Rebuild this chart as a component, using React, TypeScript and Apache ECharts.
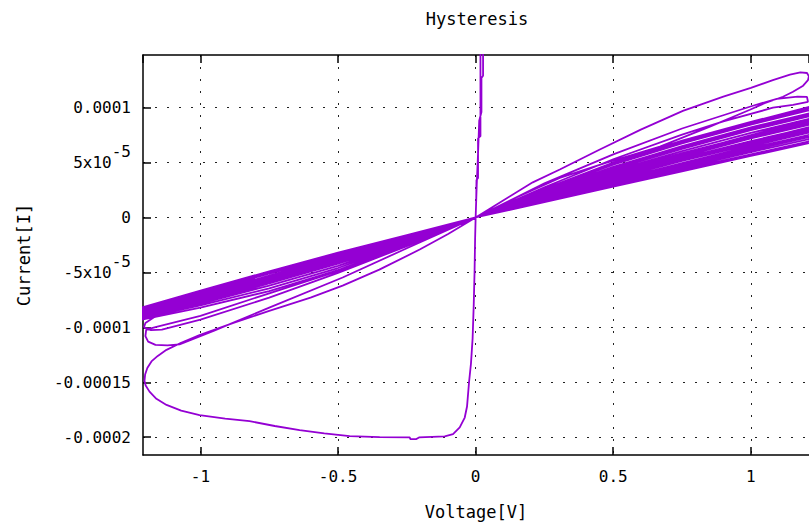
import React, { useEffect, useRef } from 'react';
import * as echarts from 'echarts';

const TITLE = 'Hysteresis';
const X_NAME = 'Voltage[V]';
const Y_NAME = 'Current[I]';

const X_MIN = -1.2087;
const X_MAX = 1.2113;
const Y_MIN = -2.162e-4;
const Y_MAX = 1.479e-4;

const xTickValues = [-1, -0.5, 0, 0.5, 1];
const xTickLabels = ['-1', '-0.5', '0', '0.5', '1'];
const yTickValues = [0.0001, 0.00005, 0, -0.00005, -0.0001, -0.00015, -0.0002];
const yTickLabels = ['0.0001', '{n|5x10}{s|-5}', '0', '{n|-5x10}{s|-5}', '-0.0001', '-0.00015', '-0.0002'];

// [Voltage, Current], in drawing order
const spikeUp = [[0, 0], [0.002, 1.5e-5], [0.003, 3.4e-5], [0.0087, 3.6e-5], [0.0087, 7.2e-5], [0.0175, 7.4e-5], [0.0175, 1.6e-4]];
const spikeDown = [[0.027, 1.6e-4], [0.027, 1.29e-4], [0.0211, 1.27e-4], [0.0211, 9.6e-5], [0.013, 8.8e-5], [0.009, 6.0e-5], [0.004, 3.0e-5], [0, 0]];
const descent = [[-0.002, -2.0e-5], [-0.004, -5.0e-5], [-0.007, -8.0e-5], [-0.011, -1.1e-4], [-0.017, -1.33e-4], [-0.024, -1.5e-4], [-0.0313, -1.721e-4], [-0.0396, -1.821e-4], [-0.0578, -1.911e-4], [-0.0822, -1.972e-4], [-0.1124, -1.993e-4], [-0.2058, -2.002e-4], [-0.2153, -2.017e-4], [-0.2371, -2.017e-4], [-0.2396, -2.002e-4], [-0.3487, -2.0e-4], [-0.4578, -1.99e-4]];
const bottomArc = [[-0.55, -1.965e-4], [-0.6396, -1.936e-4], [-0.73, -1.898e-4], [-0.8215, -1.854e-4], [-0.91, -1.83e-4], [-1.0033, -1.80e-4], [-1.07, -1.758e-4], [-1.1233, -1.706e-4], [-1.16, -1.65e-4], [-1.1851, -1.585e-4], [-1.199, -1.53e-4], [-1.2033, -1.488e-4], [-1.201, -1.43e-4], [-1.193, -1.37e-4], [-1.178, -1.31e-4], [-1.155, -1.26e-4], [-1.1233, -1.205e-4], [-1.07, -1.14e-4], [-1.0033, -1.07e-4], [-0.88, -9.6e-5], [-0.75, -8.5e-5], [-0.6, -7.3e-5], [-0.4833, -6.2e-5], [-0.35, -4.75e-5], [-0.2033, -2.92e-5], [-0.1, -1.5e-5], [0, 0]];
const outerPosLoop = [[0.1, 1.55e-5], [0.2076, 3.2e-5], [0.3058, 4.37e-5], [0.4513, 6.19e-5], [0.6, 8.0e-5], [0.753, 9.7e-5], [0.9, 1.10e-4], [1.0, 1.18e-4], [1.08, 1.25e-4], [1.1422, 1.30e-4], [1.18, 1.32e-4], [1.204, 1.315e-4], [1.211, 1.285e-4], [1.2076, 1.25e-4], [1.19, 1.20e-4], [1.1531, 1.144e-4], [1.1167, 1.099e-4], [1.05, 1.04e-4], [0.9967, 9.81e-5], [0.8513, 8.27e-5], [0.6695, 6.45e-5], [0.47, 4.95e-5], [0.3058, 3.6e-5], [0.15, 1.85e-5], [0, 0]];
const secondNegLoop = [[-0.25, -2.8e-5], [-0.4833, -5.46e-5], [-0.75, -8.2e-5], [-0.95, -1.03e-4], [-1.076, -1.155e-4], [-1.12, -1.165e-4], [-1.1633, -1.16e-4], [-1.19, -1.13e-4], [-1.2, -1.08e-4], [-1.197, -1.02e-4], [-1.16, -9.95e-5], [-1.0, -8.95e-5], [-0.75, -6.9e-5], [-0.4833, -4.74e-5], [-0.25, -2.45e-5], [0, 0]];
const secondPosLoop = [[0.25, 3.1e-5], [0.5, 5.75e-5], [0.75, 8.1e-5], [1.0073, 1.017e-4], [1.0945, 1.08e-4], [1.17, 1.10e-4], [1.204, 1.098e-4], [1.2076, 1.053e-4], [1.1531, 1.026e-4], [1.0804, 9.99e-5], [0.9, 8.75e-5], [0.75, 7.55e-5], [0.5, 5.3e-5], [0.25, 2.75e-5], [0, 0]];
const hookNegLoop = [[-0.25, -2.3e-5], [-0.5, -4.4e-5], [-0.75, -6.2e-5], [-1.0, -7.8e-5], [-1.1, -8.55e-5], [-1.17, -9.1e-5], [-1.2, -9.6e-5], [-1.205, -1.0e-4], [-1.18, -1.025e-4], [-1.14, -1.02e-4], [-1.0, -9.3e-5], [-0.75, -7.3e-5], [-0.5, -5.05e-5], [-0.25, -2.6e-5], [0, 0]];

// dense band of loops (outgoing branch, returning branch, tip)
const bandPosX = [0.25, 0.5, 0.75, 1.0, 1.25];
const bandPosTipX = 1.3;
const bandPosOut = [
  [2.6e-5, 5.0e-5, 7.0e-5, 8.7e-5, 1.03e-4],
  [2.55e-5, 4.9e-5, 6.85e-5, 8.55e-5, 1.015e-4],
  [2.5e-5, 4.8e-5, 6.75e-5, 8.45e-5, 1.0e-4],
  [2.4e-5, 4.6e-5, 6.5e-5, 8.2e-5, 9.7e-5],
  [2.35e-5, 4.5e-5, 6.4e-5, 8.05e-5, 9.55e-5],
  [2.3e-5, 4.4e-5, 6.25e-5, 7.95e-5, 9.45e-5],
  [2.2e-5, 4.25e-5, 6.05e-5, 7.7e-5, 9.2e-5],
  [2.1e-5, 4.1e-5, 5.85e-5, 7.45e-5, 8.95e-5],
  [2.05e-5, 4.0e-5, 5.7e-5, 7.3e-5, 8.8e-5],
  [2.0e-5, 3.9e-5, 5.6e-5, 7.2e-5, 8.65e-5],
  [1.9e-5, 3.75e-5, 5.4e-5, 6.95e-5, 8.4e-5],
  [1.8e-5, 3.55e-5, 5.15e-5, 6.65e-5, 8.05e-5],
  [1.7e-5, 3.35e-5, 4.9e-5, 6.35e-5, 7.7e-5],
];
const bandPosBack = [
  [2.05e-5, 4.0e-5, 5.8e-5, 7.5e-5, 9.1e-5],
  [2.0e-5, 3.9e-5, 5.7e-5, 7.35e-5, 8.95e-5],
  [1.95e-5, 3.8e-5, 5.55e-5, 7.2e-5, 8.75e-5],
  [1.85e-5, 3.6e-5, 5.3e-5, 6.9e-5, 8.45e-5],
  [1.82e-5, 3.55e-5, 5.2e-5, 6.8e-5, 8.3e-5],
  [1.8e-5, 3.5e-5, 5.15e-5, 6.7e-5, 8.2e-5],
  [1.7e-5, 3.35e-5, 4.95e-5, 6.5e-5, 7.95e-5],
  [1.65e-5, 3.25e-5, 4.8e-5, 6.3e-5, 7.75e-5],
  [1.62e-5, 3.18e-5, 4.72e-5, 6.2e-5, 7.65e-5],
  [1.6e-5, 3.1e-5, 4.65e-5, 6.1e-5, 7.55e-5],
  [1.5e-5, 3.0e-5, 4.5e-5, 5.95e-5, 7.35e-5],
  [1.45e-5, 2.9e-5, 4.35e-5, 5.75e-5, 7.15e-5],
  [1.4e-5, 2.8e-5, 4.2e-5, 5.6e-5, 7.0e-5],
];
const bandPosTip = [9.8e-5, 9.62e-5, 9.45e-5, 9.1e-5, 8.95e-5, 8.85e-5, 8.6e-5, 8.35e-5, 8.2e-5, 8.1e-5, 7.85e-5, 7.6e-5, 7.35e-5];

const bandNegX = [-0.25, -0.5, -0.75, -1.0, -1.25];
const bandNegTipX = -1.3;
const bandNegOut = [
  [-1.6e-5, -3.2e-5, -4.9e-5, -6.65e-5, -8.45e-5],
  [-1.65e-5, -3.3e-5, -5.0e-5, -6.75e-5, -8.52e-5],
  [-1.7e-5, -3.4e-5, -5.1e-5, -6.85e-5, -8.6e-5],
  [-1.8e-5, -3.55e-5, -5.3e-5, -7.0e-5, -8.75e-5],
  [-1.85e-5, -3.62e-5, -5.38e-5, -7.08e-5, -8.8e-5],
  [-1.9e-5, -3.7e-5, -5.45e-5, -7.15e-5, -8.85e-5],
  [-2.0e-5, -3.85e-5, -5.6e-5, -7.3e-5, -8.95e-5],
  [-2.1e-5, -4.0e-5, -5.8e-5, -7.45e-5, -9.05e-5],
  [-2.2e-5, -4.2e-5, -6.0e-5, -7.6e-5, -9.1e-5],
];
const bandNegBack = [
  [-1.85e-5, -3.7e-5, -5.5e-5, -7.2e-5, -8.85e-5],
  [-1.9e-5, -3.8e-5, -5.6e-5, -7.3e-5, -8.92e-5],
  [-1.95e-5, -3.9e-5, -5.7e-5, -7.4e-5, -9.0e-5],
  [-2.05e-5, -4.05e-5, -5.85e-5, -7.55e-5, -9.1e-5],
  [-2.1e-5, -4.12e-5, -5.92e-5, -7.62e-5, -9.15e-5],
  [-2.15e-5, -4.2e-5, -6.0e-5, -7.7e-5, -9.2e-5],
  [-2.25e-5, -4.4e-5, -6.2e-5, -7.85e-5, -9.3e-5],
  [-2.35e-5, -4.6e-5, -6.45e-5, -8.0e-5, -9.4e-5],
  [-2.45e-5, -4.8e-5, -6.7e-5, -8.2e-5, -9.5e-5],
];
const bandNegTip = [-8.75e-5, -8.82e-5, -8.9e-5, -9.0e-5, -9.05e-5, -9.1e-5, -9.2e-5, -9.3e-5, -9.4e-5];

function loopPath(xs: number[], out: number[], back: number[], tipX: number, tipY: number) {
  const pts: number[][] = [[0, 0]];
  xs.forEach((x, i) => pts.push([x, out[i]]));
  pts.push([tipX, tipY]);
  for (let i = xs.length - 1; i >= 0; i--) pts.push([xs[i], back[i]]);
  pts.push([0, 0]);
  return pts;
}

function buildPath() {
  const path: number[][] = [];
  path.push(...spikeUp, ...spikeDown, ...descent, ...bottomArc);
  path.push(...outerPosLoop, ...secondNegLoop, ...secondPosLoop, ...hookNegLoop);
  const n = Math.max(bandPosOut.length, bandNegOut.length);
  for (let i = 0; i < n; i++) {
    if (i < bandPosOut.length) path.push(...loopPath(bandPosX, bandPosOut[i], bandPosBack[i], bandPosTipX, bandPosTip[i]));
    if (i < bandNegOut.length) path.push(...loopPath(bandNegX, bandNegOut[i], bandNegBack[i], bandNegTipX, bandNegTip[i]));
  }
  return path;
}

const FONT = '"DejaVu Sans Mono", "Liberation Mono", monospace';
const FS = 16;
const FS_NAME = 17;

export default function App() {
  const ref = useRef<HTMLDivElement>(null);
  useEffect(() => {
    if (!ref.current) return;
    const chart = echarts.init(ref.current, undefined, { renderer: 'svg' });
    const axisLineStyle = { color: '#000', width: 1.5 };
    const gridLineStyle = { color: '#222', width: 1, type: [2, 10] as any };
    const lookup = (vals: number[], labels: string[], tol: number) => (v: number) => {
      const i = vals.findIndex((t) => Math.abs(t - v) < tol);
      return i >= 0 ? labels[i] : '';
    };
    chart.setOption({
      animation: false,
      backgroundColor: '#fff',
      graphic: [
        {
          type: 'text',
          x: 477,
          y: 19,
          style: {
            text: TITLE,
            fill: '#000',
            font: `${FS_NAME}px ${FONT}`,
            align: 'center',
            verticalAlign: 'middle',
            textAlign: 'center',
            textVerticalAlign: 'middle',
          },
        },
      ],
      grid: { left: 143, right: 0, top: 55, bottom: 68, containLabel: false },
      xAxis: [
        {
          type: 'value',
          min: X_MIN,
          max: X_MAX,
          position: 'bottom',
          splitNumber: 5,
          minInterval: 0.5,
          maxInterval: 0.5,
          name: X_NAME,
          nameLocation: 'middle',
          nameGap: 48,
          nameTextStyle: { color: '#000', fontFamily: FONT, fontSize: FS_NAME },
          axisLine: { show: true, onZero: false, lineStyle: axisLineStyle },
          axisTick: { show: true, inside: true, length: 8, lineStyle: axisLineStyle },
          axisLabel: {
            show: true,
            margin: 13,
            color: '#000',
            fontFamily: FONT,
            fontSize: FS,
            showMinLabel: false,
            showMaxLabel: false,
            formatter: lookup(xTickValues, xTickLabels, 1e-6),
          },
          splitLine: { show: true, showMinLine: false, showMaxLine: false, lineStyle: gridLineStyle },
        },
        {
          type: 'value',
          min: X_MIN,
          max: X_MAX,
          position: 'top',
          splitNumber: 5,
          minInterval: 0.5,
          maxInterval: 0.5,
          axisLine: { show: true, onZero: false, lineStyle: axisLineStyle },
          axisTick: { show: true, inside: true, length: 8, lineStyle: axisLineStyle },
          axisLabel: { show: false },
          splitLine: { show: false },
        },
      ],
      yAxis: {
        type: 'value',
        min: Y_MIN,
        max: Y_MAX,
        splitNumber: 7,
        minInterval: 5e-5,
        maxInterval: 5e-5,
        name: Y_NAME,
        nameLocation: 'middle',
        nameGap: 111,
        nameRotate: 90,
        nameTextStyle: { color: '#000', fontFamily: FONT, fontSize: FS_NAME },
        axisLine: { show: true, onZero: false, lineStyle: axisLineStyle },
        axisTick: { show: true, inside: true, length: 8, lineStyle: axisLineStyle },
        axisLabel: {
          show: true,
          margin: 12,
          color: '#000',
          fontFamily: FONT,
          fontSize: FS,
          showMinLabel: false,
          showMaxLabel: false,
          formatter: lookup(yTickValues, yTickLabels, 1e-9),
          rich: {
            n: { color: '#000', fontFamily: FONT, fontSize: FS },
            s: { color: '#000', fontFamily: FONT, fontSize: FS, padding: [0, 0, 22, 0] },
          },
        },
        splitLine: { show: true, showMinLine: false, showMaxLine: false, lineStyle: gridLineStyle },
      },
      series: [
        {
          type: 'line',
          name: 'I-V',
          data: buildPath(),
          xAxisIndex: 0,
          yAxisIndex: 0,
          showSymbol: false,
          symbol: 'none',
          clip: true,
          lineStyle: { color: '#9400d3', width: 1.8 },
          emphasis: { disabled: true },
        },
      ],
    });
    return () => chart.dispose();
  }, []);
  return <div ref={ref} style={{ position: 'absolute', left: 0, top: 0, width: 809, height: 525 }} />;
}
